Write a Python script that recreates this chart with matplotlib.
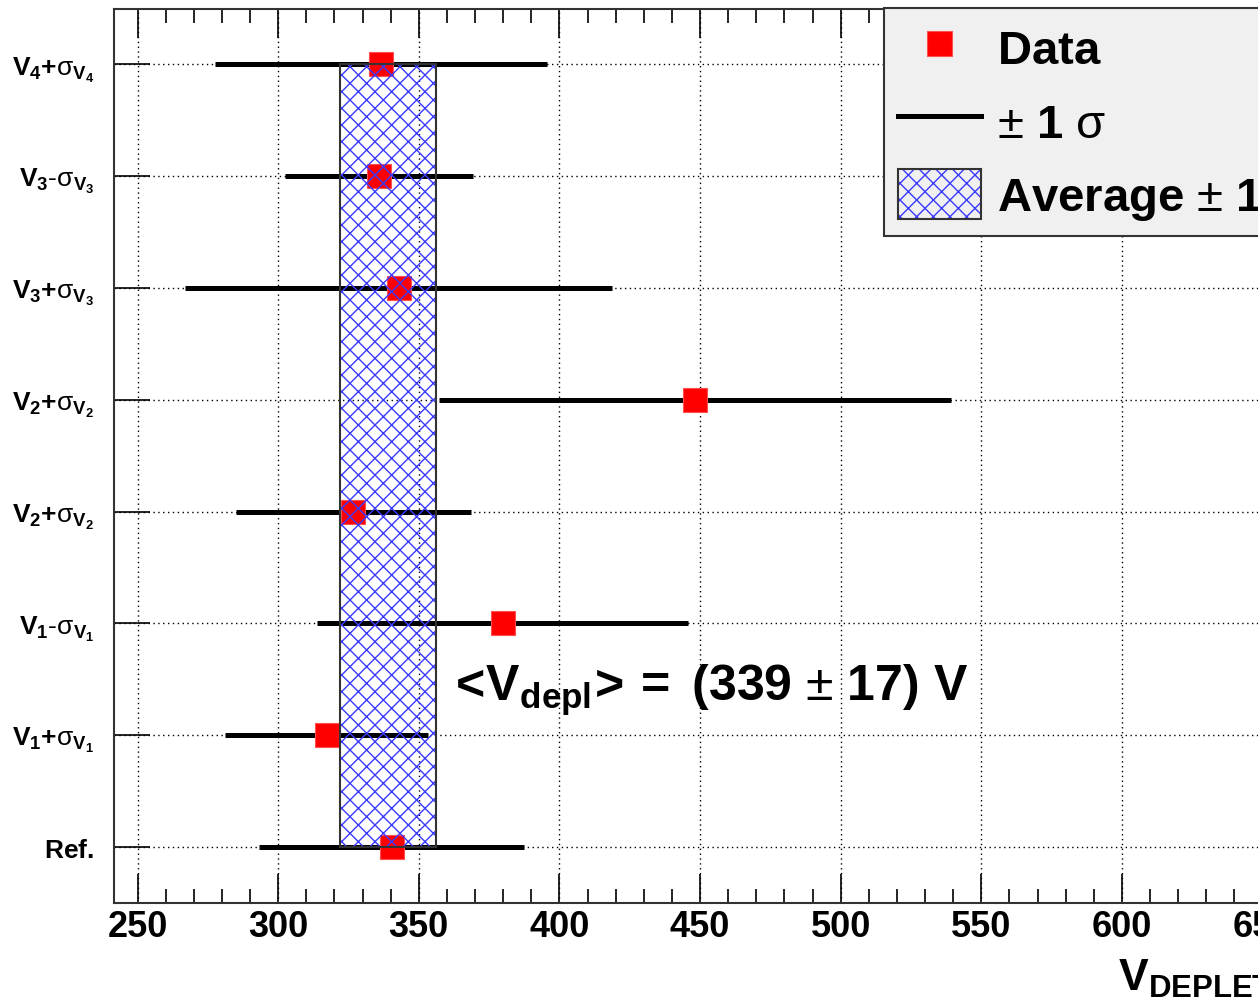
import matplotlib
matplotlib.use("Agg")
import matplotlib.pyplot as plt
from matplotlib.patches import Rectangle, Patch
from matplotlib.lines import Line2D
from matplotlib.legend_handler import HandlerTuple
from matplotlib.ticker import MultipleLocator

plt.rcParams['font.family'] = ['Liberation Sans', 'DejaVu Sans']
plt.rcParams['mathtext.fontset'] = 'custom'
plt.rcParams['mathtext.rm'] = 'Liberation Sans'
plt.rcParams['mathtext.bf'] = 'Liberation Sans:bold'
plt.rcParams['mathtext.it'] = 'Liberation Sans:italic'
plt.rcParams['mathtext.sf'] = 'Liberation Sans'
plt.rcParams['hatch.linewidth'] = 1.0

# ---- data (bottom to top) ----
labels = [
    r'$\mathbf{Ref.}$',
    r'$\mathbf{V_{1}}\mathbf{+}\mathregular{σ}_{\mathbf{V_{1}}}$',
    r'$\mathbf{V_{1}}\text{-}\mathregular{σ}_{\mathbf{V_{1}}}$',
    r'$\mathbf{V_{2}}\mathbf{+}\mathregular{σ}_{\mathbf{V_{2}}}$',
    r'$\mathbf{V_{2}}\mathbf{+}\mathregular{σ}_{\mathbf{V_{2}}}$',
    r'$\mathbf{V_{3}}\mathbf{+}\mathregular{σ}_{\mathbf{V_{3}}}$',
    r'$\mathbf{V_{3}}\text{-}\mathregular{σ}_{\mathbf{V_{3}}}$',
    r'$\mathbf{V_{4}}\mathbf{+}\mathregular{σ}_{\mathbf{V_{4}}}$',
]
values = [340.3, 317.2, 379.8, 326.7, 448.3, 342.8, 335.9, 336.6]
errors = [47.0, 36.2, 66.0, 41.8, 91.0, 76.0, 33.5, 59.0]
avg_value = 339.0
avg_error = 17.0
x_ticks = [250, 300, 350, 400, 450, 500, 550, 600, 650, 700]

W, H = 1258, 1003
fig = plt.figure(figsize=(W / 100, H / 100), dpi=100)
fig.patch.set_facecolor('white')

ax_left = 113.7 / W
ax_bottom = 1 - 904 / H
ax_top = 1 - 9.5 / H
ax_right_px = 137.7 + (700 - 250) * 2.812
ax = fig.add_axes([ax_left, ax_bottom, (ax_right_px - 113.7) / W, ax_top - ax_bottom])
ax.set_xlim(241.5, 700)
ax.set_ylim(-0.5, len(labels) - 0.5)

ypos = list(range(len(labels)))

# grid
ax.set_axisbelow(True)
ax.grid(True, which='major', linestyle=(0, (1, 2.5)), color='black', linewidth=1.0)

# error bars
ax.errorbar(values, ypos, xerr=errors, fmt='none', ecolor='black',
            elinewidth=3.6, capsize=0, zorder=3)
# markers
ax.plot(values, ypos, linestyle='none', marker='s', markersize=17,
        markerfacecolor='#ff0000', markeredgecolor='#ff5050',
        markeredgewidth=0.8, zorder=4)

# average band
ax.add_patch(Rectangle((avg_value - avg_error, ypos[0]), 2 * avg_error,
                       ypos[-1] - ypos[0], facecolor='none',
                       edgecolor='#3a3aff', hatch='xx', linewidth=0, zorder=5))
ax.add_patch(Rectangle((avg_value - avg_error, ypos[0]), 2 * avg_error,
                       ypos[-1] - ypos[0], facecolor='none',
                       edgecolor='#333333', linewidth=1.5, zorder=6))

# ticks
ax.set_xticks(x_ticks)
ax.set_xticklabels([str(t) for t in x_ticks])
ax.xaxis.set_minor_locator(MultipleLocator(10))
ax.set_yticks(ypos)
ax.set_yticklabels(labels)
ax.tick_params(axis='x', which='major', direction='in', length=21, width=1.2,
               top=True, bottom=True, pad=4, colors='black')
ax.tick_params(axis='x', which='minor', direction='in', length=10, width=1.2,
               top=True, bottom=True)
ax.tick_params(axis='y', which='major', direction='in', length=26, width=1.2,
               left=True, right=False, pad=14, labelsize=19)
for lab in ax.get_xticklabels():
    lab.set_fontweight('bold')
    lab.set_fontsize(26)
for sp in ax.spines.values():
    sp.set_linewidth(1.5)
    sp.set_color('#333333')

# annotation text
ax.text(360.0, 1.32,
        r'$\mathbf{<}\!\mathbf{V_{depl}}\!\mathbf{>=}\ \mathbf{(339}\ \mathregular{\pm}\ \mathbf{17)\ V}$',
        fontsize=36, ha='left', va='baseline', zorder=7)

# x label (cut at right edge as in the reference)
fig.text(1118 / W, 1 - 990 / H, r'$\mathbf{V_{DEPLETION}}$ [V]',
         fontsize=32, ha='left', va='baseline')

# legend
band_hatch = Patch(facecolor='none', edgecolor='#3a3aff', hatch='xx', linewidth=0)
band_edge = Patch(facecolor='none', edgecolor='#333333', linewidth=1.5)
handles = [
    Line2D([], [], linestyle='none', marker='s', markersize=18,
           markerfacecolor='#ff0000', markeredgecolor='#ff5050', markeredgewidth=0.8),
    Line2D([], [], color='black', linewidth=3.6),
    (band_hatch, band_edge),
]
leg_labels = [
    r'$\mathbf{Data}$',
    r'$\mathregular{\pm}\ \mathbf{1}\ \mathregular{σ}$',
    r'$\mathbf{Average}\ \mathregular{\pm}\ \mathbf{1}\mathregular{σ}$',
]
leg = fig.legend(handles, leg_labels, loc='upper left',
                 bbox_to_anchor=(884 / W, 1 - 9 / H), borderaxespad=0,
                 fontsize=34, frameon=True, fancybox=False,
                 handlelength=1.75, handleheight=1.25, handletextpad=0.35,
                 borderpad=0.3, labelspacing=0.48,
                 handler_map={tuple: HandlerTuple(ndivide=1, pad=0)})
frame = leg.get_frame()
frame.set_facecolor('#f0f0f0')
frame.set_edgecolor('#333333')
frame.set_linewidth(1.5)
frame.set_alpha(1)

fig.savefig('out.png', dpi=100, facecolor='white')
